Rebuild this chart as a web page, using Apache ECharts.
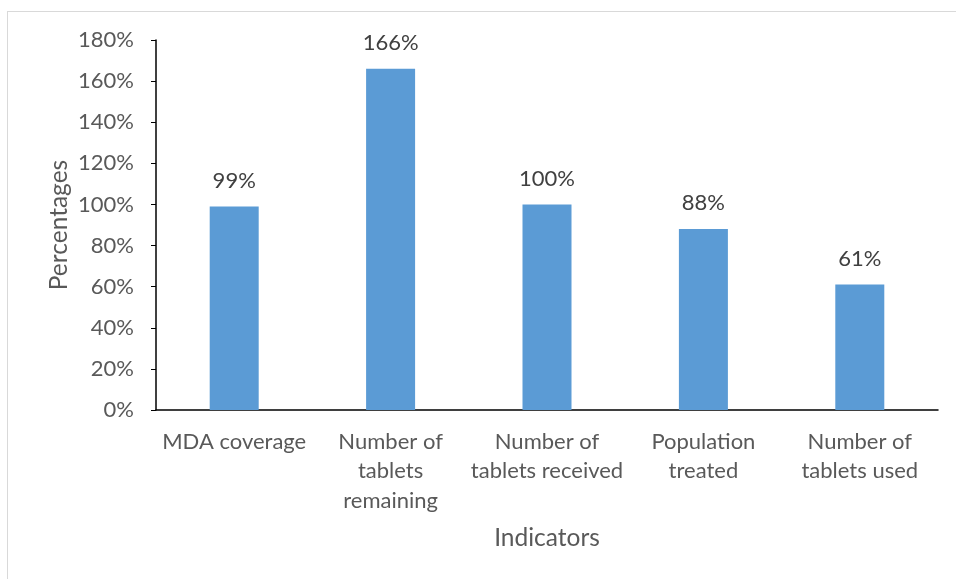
<!DOCTYPE html>
<html>
<head>
<meta charset="utf-8">
<script src="https://cdn.jsdelivr.net/npm/echarts@6/dist/echarts.min.js"></script>
<style>
  html, body { margin: 0; padding: 0; background: #fff; }
  #frame {
    position: absolute; left: 7px; top: 11px; right: 0; bottom: 0;
    border-left: 1px solid #d9d9d9; border-top: 1px solid #d9d9d9;
  }
  #chart { position: absolute; left: 0; top: 0; width: 956px; height: 579px; }
</style>
</head>
<body>
<div id="frame"></div>
<div id="chart"></div>
<script>
// data
const categories = [
  "MDA coverage",
  "Number of\ntablets\nremaining",
  "Number of\ntablets received",
  "Population\ntreated",
  "Number of\ntablets used"
];
const percentValues = [99, 166, 100, 88, 61];
const yTicks = [0, 20, 40, 60, 80, 100, 120, 140, 160, 180];

const textColor = "#595959";
const fontFamily = "Lato, 'Open Sans', sans-serif";

const chart = echarts.init(document.getElementById("chart"), null, { renderer: "canvas" });

chart.setOption({
  animation: false,
  textStyle: { fontFamily: fontFamily },
  grid: {
    left: 156,
    right: 18,
    top: 40,
    bottom: 169
  },
  xAxis: {
    type: "category",
    data: categories,
    name: "Indicators",
    nameLocation: "middle",
    nameGap: 116,
    nameTextStyle: { color: textColor, fontSize: 24.5, fontFamily: fontFamily },
    axisLine: { lineStyle: { color: "#000", width: 1.5 } },
    axisTick: { inside: true, alignWithLabel: true, length: 5, lineStyle: { color: "#000" } },
    axisLabel: {
      color: textColor,
      fontSize: 22,
      lineHeight: 29.5,
      margin: 17,
      interval: 0
    }
  },
  yAxis: {
    type: "value",
    min: yTicks[0],
    max: yTicks[yTicks.length - 1],
    interval: 20,
    name: "Percentages",
    nameLocation: "middle",
    nameGap: 84,
    nameMoveOverlap: false,
    nameTextStyle: { color: textColor, fontSize: 24.5, fontFamily: fontFamily },
    splitLine: { show: false },
    axisLine: { show: true, lineStyle: { color: "#000", width: 1.5 } },
    axisTick: { show: true, length: 5, lineStyle: { color: "#000" } },
    axisLabel: {
      color: textColor,
      fontSize: 22,
      margin: 22,
      formatter: v => v + "%"
    }
  },
  series: [
    {
      type: "bar",
      data: percentValues,
      barWidth: 49,
      itemStyle: { color: "#5b9bd5" },
      label: {
        show: true,
        position: "top",
        distance: 15,
        color: "#404040",
        fontSize: 22,
        formatter: p => p.value + "%"
      }
    }
  ]
});
</script>
</body>
</html>
